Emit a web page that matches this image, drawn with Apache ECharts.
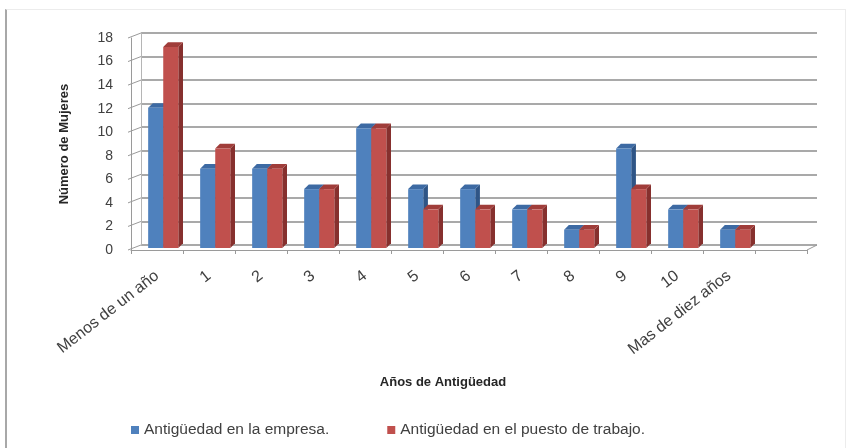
<!DOCTYPE html>
<html>
<head>
<meta charset="utf-8">
<script src="https://cdn.jsdelivr.net/npm/echarts@6/dist/echarts.min.js"></script>
<style>
html,body{margin:0;padding:0;background:#fff;}
#wrap{position:relative;width:849px;height:448px;}
#chart{width:849px;height:448px;}
#frame{position:absolute;left:5px;top:9px;width:838px;height:445px;border-left:2px solid #a8a8a8;border-top:1px solid #ececec;border-right:1px solid #ececec;pointer-events:none;}
</style>
</head>
<body>
<div id="wrap"><div id="chart"></div><div id="frame"></div></div>
<script>
// ---- data ----
const categories = ['Menos de un año', '1', '2', '3', '4', '5', '6', '7', '8', '9', '10', 'Mas de diez años', ''];
const empresa = [12.07, 6.90, 6.90, 5.17, 10.34, 5.17, 5.17, 3.45, 1.72, 8.62, 3.45, 1.72];
const puesto  = [17.24, 8.62, 6.90, 5.17, 10.34, 3.45, 3.45, 3.45, 1.72, 5.17, 3.45, 1.72];
const yTicks = [0, 2, 4, 6, 8, 10, 12, 14, 16, 18];
const seriesNames = ['Antigüedad en la empresa.', 'Antigüedad en el puesto de trabajo.'];
const xTitle = 'Años de Antigüedad';
const yTitle = 'Número de Mujeres';

const FONT = 'Liberation Sans, Arial, sans-serif';
const colors = [
  {front: '#4f81bd', side: '#2f5586', top: '#3d6aa3'},
  {front: '#c0504d', side: '#86302e', top: '#a03d3a'}
];

function bar3d(k) {
  return function (params, api) {
    const i = api.value(0), v = api.value(1);
    const base = api.coord([i, 0]);
    const p = api.coord([i, v]);
    const band = api.size([1, 0])[0];
    const w = band * 0.29;
    const x0 = base[0] - band * 0.17 + k * w;
    const x1 = x0 + w;
    const yb = base[1] - 2, yt = p[1];
    const dx = band * 0.09, dy = -band * 0.09;
    const c = colors[k];
    return {
      type: 'group',
      children: [
        {type: 'polygon', shape: {points: [[x1, yb], [x1 + dx, yb + dy], [x1 + dx, yt + dy], [x1, yt]]}, style: {fill: c.side}},
        {type: 'polygon', shape: {points: [[x0, yt], [x1, yt], [x1 + dx, yt + dy], [x0 + dx, yt + dy]]}, style: {fill: c.top}},
        {type: 'rect', shape: {x: x0, y: yt, width: w, height: yb - yt}, style: {fill: c.front}}
      ]
    };
  };
}

function frame(params, api) {
  const v = api.value(1);
  const band = api.size([1, 0])[0];
  const p = api.coord([0, v]);
  const xl = p[0] - band / 2;
  const dx = 10, dy = -5;
  const children = [
    {type: 'line', shape: {x1: xl - 3, y1: p[1], x2: xl + dx, y2: p[1] + dy}, style: {stroke: '#9a9a9a', lineWidth: 1}}
  ];
  if (v === 0) {
    const last = api.coord([categories.length - 1, 0]);
    const xr = last[0] + band / 2;
    children.push({type: 'line', shape: {x1: xr, y1: p[1], x2: xr + dx, y2: p[1] + dy}, style: {stroke: '#9a9a9a', lineWidth: 1}});
  }
  return {type: 'group', children: children};
}

const chart = echarts.init(document.getElementById('chart'), null, {renderer: 'canvas'});
chart.setOption({
  animation: false,
  backgroundColor: '#fff',
  textStyle: {fontFamily: FONT},
  legend: {
    bottom: 5,
    left: 126,
    itemWidth: 8,
    itemHeight: 8,
    itemGap: 58,
    icon: 'rect',
    textStyle: {fontSize: 15.5, color: '#404040', fontFamily: FONT},
    data: [
      {name: seriesNames[0], itemStyle: {color: colors[0].front}},
      {name: seriesNames[1], itemStyle: {color: colors[1].front}}
    ]
  },
  grid: [
    {left: 131, right: 42, top: 38, bottom: 198},
    {left: 141, right: 32, top: 33, bottom: 203}
  ],
  xAxis: [
    {
      type: 'category', gridIndex: 0, data: categories,
      name: xTitle, nameLocation: 'middle', nameGap: 126,
      nameTextStyle: {fontSize: 13, fontWeight: 'bold', color: '#262626', padding: [0, 52, 0, 0]},
      axisLine: {lineStyle: {color: '#9a9a9a'}},
      axisTick: {show: true, length: 4, lineStyle: {color: '#9a9a9a'}},
      axisLabel: {rotate: 38, interval: 0, fontSize: 16, color: '#404040', margin: 24}
    },
    {type: 'category', gridIndex: 1, data: categories, show: false}
  ],
  yAxis: [
    {
      type: 'value', gridIndex: 0, min: 0, max: 18, interval: 2,
      name: yTitle, nameLocation: 'middle', nameGap: 60, nameRotate: 90,
      nameTextStyle: {fontSize: 13, fontWeight: 'bold', color: '#262626'},
      axisLine: {show: true, lineStyle: {color: '#9a9a9a'}},
      axisTick: {show: false},
      splitLine: {show: false},
      axisLabel: {fontSize: 14, color: '#404040', margin: 18}
    },
    {
      type: 'value', gridIndex: 1, min: 0, max: 18, interval: 2,
      axisLine: {show: true, lineStyle: {color: '#b5b5b5'}},
      axisTick: {show: false},
      axisLabel: {show: false},
      splitLine: {show: true, lineStyle: {color: '#8c8c8c', width: 1.5}}
    }
  ],
  series: [
    {
      type: 'custom', name: 'frame', xAxisIndex: 0, yAxisIndex: 0, silent: true,
      renderItem: frame,
      data: yTicks.map(v => [0, v]),
      z: 1
    },
    {
      type: 'custom', name: seriesNames[0], xAxisIndex: 0, yAxisIndex: 0,
      renderItem: bar3d(0),
      itemStyle: {color: colors[0].front},
      encode: {x: 0, y: 1},
      data: empresa.map((v, i) => [i, v]),
      z: 3
    },
    {
      type: 'custom', name: seriesNames[1], xAxisIndex: 0, yAxisIndex: 0,
      renderItem: bar3d(1),
      itemStyle: {color: colors[1].front},
      encode: {x: 0, y: 1},
      data: puesto.map((v, i) => [i, v]),
      z: 4
    }
  ]
});
</script>
</body>
</html>
